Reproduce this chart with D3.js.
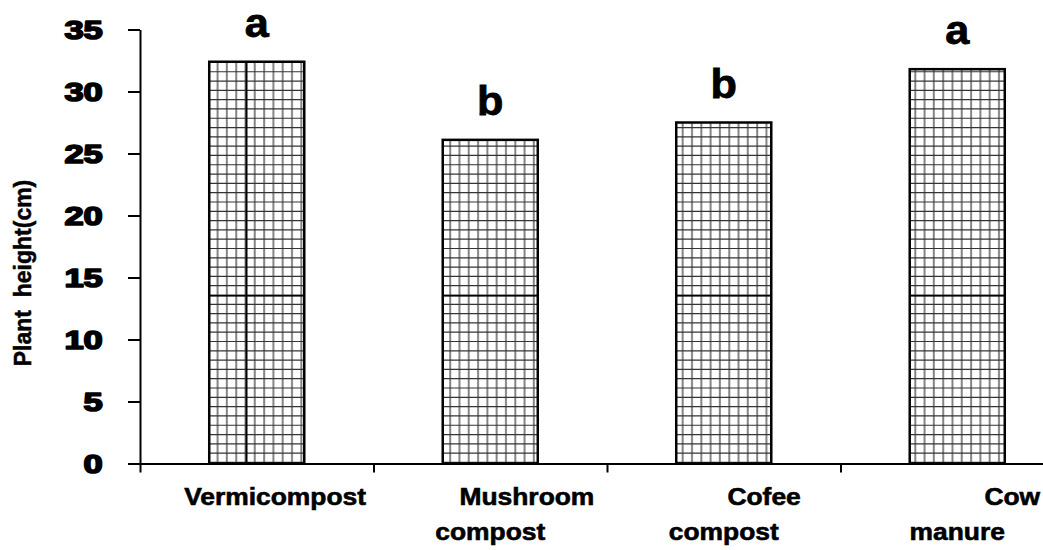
<!DOCTYPE html>
<html>
<head>
<meta charset="utf-8">
<script src="https://cdn.jsdelivr.net/npm/d3@7"></script>
<style>
  body { margin: 0; background: #fff; }
  text { font-family: "Liberation Sans", Arial, sans-serif; font-weight: bold; fill: #000; white-space: pre; }
</style>
</head>
<body>
<script>
let width = 1043
let height = 550

// data
const categories = ["Vermicompost", "Mushroom compost", "Cofee compost", "Cow manure"]
const labelLines = [
  ["     Vermicompost"],
  ["          Mushroom", "compost"],
  ["           Cofee", "compost"],
  ["               Cow", "manure"]
]
const heights = [32.4, 26.1, 27.5, 31.8]
const letters = ["a", "b", "b", "a"]
const yTicks = [0, 5, 10, 15, 20, 25, 30, 35]

const svg = d3.select("body")
    .append('svg')
    .attr('width', width)
    .attr('height', height)

const x = d3.scaleBand()
    .domain(categories)
    .range([140, 1074])
    .paddingInner(0.593)
    .paddingOuter(0.2965)

const xb = d3.scaleLinear()
    .domain([0, categories.length])
    .range([140, 1074])

const y = d3.scaleLinear()
    .domain([0, 35])
    .range([463.5, 29.5])

// grid fill, one big tile so the seam lines show like in the original
const cell = 800 / 86
const pat = svg.append('defs').append('pattern')
    .attr('id', 'grid')
    .attr('patternUnits', 'userSpaceOnUse')
    .attr('x', 245.5)
    .attr('y', 295)
    .attr('width', 800)
    .attr('height', 400)
pat.append('rect').attr('width', 800).attr('height', 400).attr('fill', '#fff')
let p = ''
for (let i = 0; i <= 86; i++) p += 'M' + (i * cell) + ' 0V400'
for (let j = 0; j <= 43; j++) p += 'M0 ' + (j * cell) + 'H800'
pat.append('path').attr('d', p).attr('stroke', '#333').attr('stroke-width', 1.2).attr('fill', 'none')
pat.append('rect').attr('width', 2).attr('height', 400).attr('fill', '#000')
pat.append('rect').attr('width', 800).attr('height', 1.6).attr('fill', '#000')

const g = svg.append('g')

g.selectAll('.bar')
    .data(heights)
    .enter()
    .append('rect')
        .attr('class', 'bar')
        .attr('x', (d, i) => x(categories[i]))
        .attr('y', d => y(d))
        .attr('width', x.bandwidth())
        .attr('height', d => y(0) - y(d))
        .attr('fill', 'url(#grid)')
        .attr('stroke', '#000')
        .attr('stroke-width', 2.5)

g.selectAll('.letter')
    .data(heights)
    .enter()
    .append('text')
        .attr('class', 'letter')
        .attr('transform', (d, i) => 'translate(' + (x(categories[i]) + x.bandwidth() / 2) + ',' + (y(d) - 25) + ') scale(1.08,1)')
        .attr('text-anchor', 'middle')
        .attr('stroke', '#000')
        .attr('stroke-width', 0.8)
        .style('font-size', '40px')
        .text((d, i) => letters[i])

// y axis
const yAxis = svg.append('g')
    .attr('transform', 'translate(140,0)')
    .call(d3.axisLeft(y).tickValues(yTicks).tickSize(12).tickSizeOuter(0))
yAxis.select('.domain').attr('stroke-width', 2)
yAxis.selectAll('.tick line').attr('stroke-width', 2)
yAxis.selectAll('.tick text')
    .attr('x', -27)
    .attr('dy', '0.36em')
    .attr('transform', 'scale(1.38,1)')
    .attr('fill', '#000')
    .attr('stroke', '#000')
    .attr('stroke-width', 1.6)
    .attr('stroke-linejoin', 'round')
    .style('font-size', '25px')
    .style('font-family', '"Liberation Sans", Arial, sans-serif')
    .style('font-weight', 'bold')

// x axis, ticks between categories
const xAxis = svg.append('g')
    .attr('transform', 'translate(0,463.5)')
    .call(d3.axisBottom(xb).ticks(categories.length).tickSize(9).tickSizeOuter(0).tickFormat(''))
xAxis.select('.domain').attr('stroke-width', 2)
xAxis.selectAll('.tick line').attr('stroke-width', 2)

// category labels
categories.forEach(function(c, i) {
    const cx = x(c) + x.bandwidth() / 2
    labelLines[i].forEach(function(line, k) {
        svg.append('text')
            .attr('transform', 'translate(' + cx + ',' + (505 + k * 35) + ') scale(1.1,1)')
            .attr('text-anchor', 'middle')
            .attr('xml:space', 'preserve')
            .attr('stroke', '#000')
            .attr('stroke-width', 0.6)
            .style('font-size', '24px')
            .text(line)
    })
})

svg.append('text')
    .attr('transform', 'translate(31,273) rotate(-90) scale(1.0,1)')
    .attr('text-anchor', 'middle')
    .attr('xml:space', 'preserve')
    .attr('stroke', '#000')
    .attr('stroke-width', 0.5)
    .style('font-size', '23px')
    .text('Plant  height(cm)')
</script>
</body>
</html>
